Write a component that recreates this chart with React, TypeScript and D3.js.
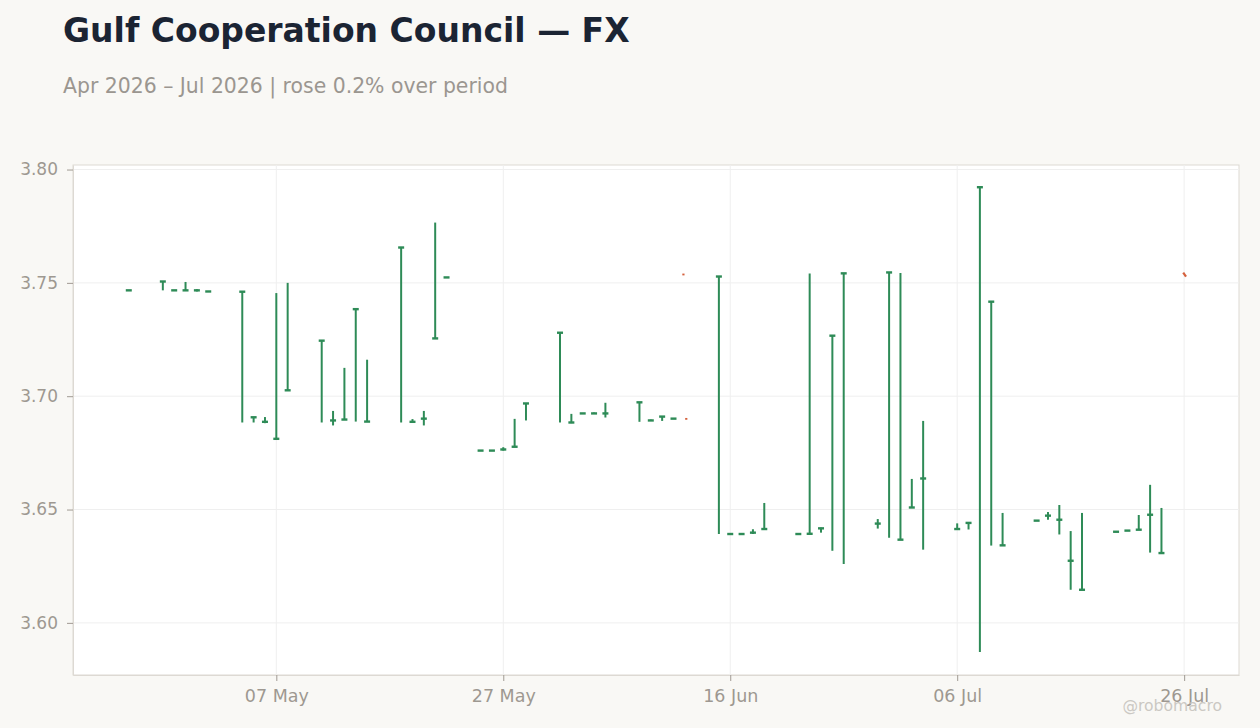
import { useRef, useEffect } from "react";
import * as d3 from "d3";

const W = 1260;
const H = 728;
const PAD = { top: 165, right: 21, bottom: 53, left: 73 };

const GREEN = "#2e8b57";
const RED = "#d4603c";

// daily FX candles (weekdays); open ~ close on this feed so bodies are thin
const dates = [
  "2026-04-24", "2026-04-27", "2026-04-28", "2026-04-29", "2026-04-30", "2026-05-01",
  "2026-05-04", "2026-05-05", "2026-05-06", "2026-05-07", "2026-05-08",
  "2026-05-11", "2026-05-12", "2026-05-13", "2026-05-14", "2026-05-15",
  "2026-05-18", "2026-05-19", "2026-05-20", "2026-05-21", "2026-05-22",
  "2026-05-25", "2026-05-26", "2026-05-27", "2026-05-28", "2026-05-29",
  "2026-06-01", "2026-06-02", "2026-06-03", "2026-06-04", "2026-06-05",
  "2026-06-08", "2026-06-09", "2026-06-10", "2026-06-11",
  "2026-06-15", "2026-06-16", "2026-06-17", "2026-06-18", "2026-06-19",
  "2026-06-22", "2026-06-23", "2026-06-24", "2026-06-25", "2026-06-26",
  "2026-06-29", "2026-06-30", "2026-07-01", "2026-07-02", "2026-07-03",
  "2026-07-06", "2026-07-07", "2026-07-08", "2026-07-09", "2026-07-10",
  "2026-07-13", "2026-07-14", "2026-07-15", "2026-07-16", "2026-07-17",
  "2026-07-20", "2026-07-21", "2026-07-22", "2026-07-23", "2026-07-24",
];

const highs = [
  3.7468, 3.7507, 3.7468, 3.7504, 3.7472, 3.7463,
  3.7462, 3.6908, 3.6908, 3.7455, 3.75,
  3.7246, 3.6935, 3.7125, 3.7385, 3.7161,
  3.7657, 3.6899, 3.6935, 3.7766, 3.7525,
  3.6761, 3.6761, 3.6775, 3.69, 3.6969,
  3.7281, 3.6922, 3.6925, 3.6928, 3.6971,
  3.6974, 3.6897, 3.6912, 3.6902,
  3.7529, 3.6393, 3.6393, 3.6413, 3.6529,
  3.6393, 3.7541, 3.642, 3.7268, 3.7544,
  3.6458, 3.7548, 3.7544, 3.6635, 3.6891,
  3.6439, 3.6442, 3.7924, 3.7418, 3.6485,
  3.6452, 3.6489, 3.652, 3.6405, 3.6485,
  3.6403, 3.6408, 3.6476, 3.6609, 3.6507,
];

const lows = [
  3.7466, 3.7467, 3.7466, 3.7465, 3.7462, 3.7461,
  3.6884, 3.6884, 3.6881, 3.681, 3.7025,
  3.6884, 3.6871, 3.6896, 3.6888, 3.6887,
  3.6884, 3.6884, 3.6871, 3.7254, 3.7523,
  3.6759, 3.6759, 3.676, 3.6776, 3.6893,
  3.6884, 3.6881, 3.6923, 3.6923, 3.6906,
  3.6887, 3.6892, 3.6891, 3.69,
  3.6392, 3.6391, 3.6391, 3.6392, 3.6413,
  3.6391, 3.6392, 3.6398, 3.6318, 3.626,
  3.6416, 3.6376, 3.6366, 3.6508, 3.6323,
  3.6413, 3.6412, 3.5872, 3.6341, 3.6341,
  3.645, 3.6455, 3.639, 3.6146, 3.6145,
  3.6401, 3.6406, 3.641, 3.631, 3.6307,
];

const closes = [
  3.7467, 3.7506, 3.7467, 3.7467, 3.7467, 3.7462,
  3.7461, 3.6907, 3.6887, 3.6812, 3.7026,
  3.7245, 3.6893, 3.6897, 3.7384, 3.6888,
  3.7656, 3.6887, 3.6901, 3.7255, 3.7524,
  3.676, 3.676, 3.6765, 3.6777, 3.6968,
  3.728, 3.6884, 3.6924, 3.6924, 3.6924,
  3.6973, 3.6893, 3.691, 3.6901,
  3.7528, 3.6392, 3.6392, 3.6398, 3.6414,
  3.6392, 3.6393, 3.6417, 3.7267, 3.7542,
  3.6438, 3.7546, 3.6367, 3.6509, 3.6637,
  3.6414, 3.6441, 3.7922, 3.7417, 3.6342,
  3.6451, 3.6473, 3.6455, 3.6274, 3.6146,
  3.6402, 3.6407, 3.6411, 3.6477, 3.6308,
];

// stray down-ticks (start/end time, high/low)
const downStart = ["2026-06-11T21:00", "2026-06-12T03:00", "2026-07-25T22:00"];
const downEnd = ["2026-06-11T21:00", "2026-06-12T03:00", "2026-07-26T04:00"];
const downHighs = [3.7541, 3.6904, 3.7545];
const downLows = [3.7533, 3.6896, 3.7527];

const yTicks = [3.6, 3.65, 3.7, 3.75, 3.8];
const xTickDates = ["2026-05-07", "2026-05-27", "2026-06-16", "2026-07-06", "2026-07-26"];

const parseDay = (s: string) => new Date(s.length > 10 ? s + "Z" : s + "T00:00Z");

export default function App() {
  const svgRef = useRef<SVGSVGElement>(null);

  useEffect(() => {
    const svg = d3.select(svgRef.current);
    if (!svg.node()) return;
    svg.selectAll("*").remove();

    const font = "'DejaVu Sans', sans-serif";

    const x = d3
      .scaleUtc()
      .domain([new Date(Date.UTC(2026, 3, 19, 2)), new Date(Date.UTC(2026, 6, 30, 20))])
      .range([PAD.left, W - PAD.right]);
    const y = d3
      .scaleLinear()
      .domain([3.577, 3.802])
      .range([H - PAD.bottom, PAD.top]);

    svg.append("rect").attr("width", W).attr("height", H).attr("fill", "#f9f8f5");

    svg
      .append("text")
      .attr("x", 63)
      .attr("y", 42)
      .attr("fill", "#1b2433")
      .style("font-family", font)
      .style("font-weight", "bold")
      .style("font-size", "33px")
      .text("Gulf Cooperation Council — FX");

    svg
      .append("text")
      .attr("x", 63)
      .attr("y", 93)
      .attr("fill", "#9b9690")
      .style("font-family", font)
      .style("font-size", "20.4px")
      .text("Apr 2026 – Jul 2026 | rose 0.2% over period");

    // plot area
    svg
      .append("rect")
      .attr("x", PAD.left)
      .attr("y", PAD.top)
      .attr("width", W - PAD.left - PAD.right)
      .attr("height", H - PAD.top - PAD.bottom)
      .attr("fill", "#ffffff")
      .attr("stroke", "#ddd9d3")
      .attr("stroke-width", 1);

    const xTicks = xTickDates.map(parseDay);

    const grid = svg.append("g");
    grid
      .selectAll(".gy")
      .data(yTicks)
      .enter()
      .append("line")
      .attr("x1", PAD.left)
      .attr("x2", W - PAD.right)
      .attr("y1", (d) => y(d))
      .attr("y2", (d) => y(d))
      .attr("stroke", "#efefef");
    grid
      .selectAll(".gx")
      .data(xTicks)
      .enter()
      .append("line")
      .attr("x1", (d) => x(d))
      .attr("x2", (d) => x(d))
      .attr("y1", PAD.top)
      .attr("y2", H - PAD.bottom)
      .attr("stroke", "#efefef");

    const yAxis = svg
      .append("g")
      .attr("transform", `translate(${PAD.left},0)`)
      .call(
        d3
          .axisLeft(y)
          .tickValues(yTicks)
          .tickSizeInner(6)
          .tickSizeOuter(0)
          .tickPadding(9)
          .tickFormat((v) => d3.format(".2f")(v as number)),
      );
    yAxis.select(".domain").attr("stroke", "#ddd9d3");
    yAxis.selectAll(".tick line").attr("stroke", "#a09a93");
    yAxis
      .selectAll("text")
      .attr("fill", "#9e9891")
      .style("font-family", font)
      .style("font-size", "17px");

    const xAxis = svg
      .append("g")
      .attr("transform", `translate(0,${H - PAD.bottom})`)
      .call(
        d3
          .axisBottom(x)
          .tickValues(xTicks)
          .tickSizeInner(6)
          .tickSizeOuter(0)
          .tickPadding(9)
          .tickFormat((v) => d3.utcFormat("%d %b")(v as Date)),
      );
    xAxis.select(".domain").attr("stroke", "#ddd9d3");
    xAxis.selectAll(".tick line").attr("stroke", "#a09a93");
    xAxis
      .selectAll("text")
      .attr("fill", "#9e9891")
      .style("font-family", font)
      .style("font-size", "17.5px");

    const candles = dates.map((d, i) => ({
      t: parseDay(d),
      h: highs[i],
      l: lows[i],
      c: closes[i],
    }));

    const g = svg.append("g");
    g.selectAll(".wick")
      .data(candles)
      .enter()
      .append("line")
      .attr("x1", (d) => x(d.t))
      .attr("x2", (d) => x(d.t))
      .attr("y1", (d) => y(d.h))
      .attr("y2", (d) => y(d.l))
      .attr("stroke", GREEN)
      .attr("stroke-width", 2);
    g.selectAll(".body")
      .data(candles)
      .enter()
      .append("rect")
      .attr("x", (d) => x(d.t) - 3)
      .attr("y", (d) => y(d.c) - 1.2)
      .attr("width", 6)
      .attr("height", 2.4)
      .attr("fill", GREEN);

    const downs = downStart.map((d, i) => ({
      t0: parseDay(d),
      t1: parseDay(downEnd[i]),
      h: downHighs[i],
      l: downLows[i],
    }));
    g.selectAll(".down")
      .data(downs)
      .enter()
      .append("line")
      .attr("x1", (d) => x(d.t0))
      .attr("x2", (d) => x(d.t1))
      .attr("y1", (d) => y(d.h))
      .attr("y2", (d) => y(d.l))
      .attr("stroke", RED)
      .attr("stroke-width", 2.2);

    svg
      .append("text")
      .attr("x", 1222)
      .attr("y", 711)
      .attr("text-anchor", "end")
      .attr("fill", "#cbc8c3")
      .style("font-family", font)
      .style("font-size", "15.6px")
      .text("@robomacro");
  }, []);

  return (
    <svg
      ref={svgRef}
      width={W}
      height={H}
      style={{ position: "absolute", left: 0, top: 0 }}
    />
  );
}
